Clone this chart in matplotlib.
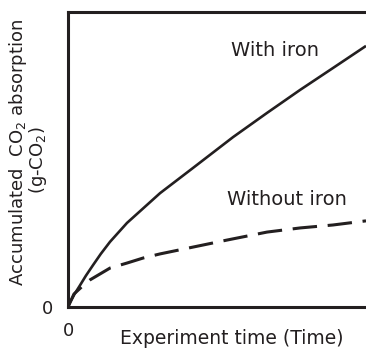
import matplotlib
matplotlib.use("Agg")
import matplotlib.pyplot as plt

############################################################
# Data (arbitrary units 0-100)
############################################################

with_iron_t = [0, 0.7, 2.2, 4.0, 6.0, 8.4, 11.0, 14.1, 19.8, 30.9, 41.9, 55.4, 66.8, 77.9, 88.9, 100]
with_iron_y = [0, 1.6, 4.4, 7.3, 10.6, 14.2, 18.0, 22.1, 28.5, 38.6, 47.1, 57.6, 65.8, 73.6, 81.0, 88.5]

without_iron_t = [0, 2.0, 5.0, 7.4, 14.1, 19.8, 25.2, 30.9, 41.9, 53.4, 66.8, 77.9, 88.9, 100]
without_iron_y = [0, 4.4, 7.2, 9.2, 13.2, 14.9, 16.6, 18.0, 20.3, 22.7, 25.4, 26.8, 27.8, 29.2]

labels = ["With iron", "Without iron"]
x_label = "Experiment time (Time)"
y_label_lines = ["Accumulated  CO$_2$ absorption", "(g-CO$_2$)"]

INK = "#231f20"

############################################################
# Figure
############################################################

fig = plt.figure(figsize=(3.66, 3.51), dpi=100)
ax = fig.add_axes([68 / 366, (351 - 307) / 351, (366 - 68) / 366, (307 - 12) / 351])

ax.plot(with_iron_t, with_iron_y, color=INK, lw=1.9, solid_capstyle="butt")
ax.plot(without_iron_t, without_iron_y, color=INK, lw=2.2,
        dashes=(8, 3.5), dash_capstyle="butt")

ax.text(69.5, 87.1, labels[0], color=INK, fontsize=14, ha="center", va="center")
ax.text(73.5, 36.3, labels[1], color=INK, fontsize=14, ha="center", va="center")

ax.set_xlim(0, 100)
ax.set_ylim(0, 100)

ax.set_xticks([0])
ax.set_yticks([0])
ax.tick_params(length=0, labelsize=13, colors=INK, pad=11)

for side in ["left", "bottom", "top"]:
    ax.spines[side].set_linewidth(2.2)
    ax.spines[side].set_color(INK)
ax.spines["right"].set_visible(False)

############################################################
# Axis titles
############################################################

fig.text(232 / 366, (351 - 338) / 351, x_label, fontsize=13.5, color=INK,
         ha="center", va="center")
fig.text(18 / 366, (351 - 152) / 351, y_label_lines[0], fontsize=13,
         color=INK, ha="center", va="center", rotation=90)
fig.text(38 / 366, (351 - 160) / 351, y_label_lines[1], fontsize=13,
         color=INK, ha="center", va="center", rotation=90)

fig.savefig("out.png", dpi=100)
